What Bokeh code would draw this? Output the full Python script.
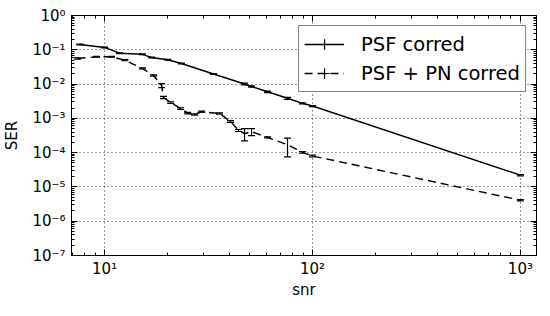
import numpy as np
from bokeh.plotting import figure
from bokeh.models import LogAxis, FixedTicker, Range1d, Legend, LegendItem, CustomJSTickFormatter
from bokeh.embed import file_html
from bokeh.resources import INLINE

# ---- data ----
snr_psf = [7.6, 10.0, 11.8, 15.2, 16.8, 20.1, 23.4, 33.4, 47.1, 50.9, 60.8, 75.8, 89.5, 100.0, 1000.0]
ser_psf = [0.143, 0.117, 0.0796, 0.0738, 0.0596, 0.0511, 0.0398, 0.0197, 0.01005, 0.0085,
           0.00596, 0.00385, 0.00275, 0.00229, 2.2e-5]
err_psf = [0.004, 0.003, 0.002, 0.002, 0.0015, 0.0013, 0.001, 0.0005, 0.0006, 0.0004,
           0.0003, 0.00025, 0.0001, 0.00008, 1.0e-6]

snr_pn = [7.42, 9.15, 10.8, 12.5, 15.2, 17.2, 18.8, 19.2, 20.8, 23.2, 25.1, 27.1, 29.3,
          35.7, 40.3, 44.1, 47.1, 50.9, 60.8, 75.8, 89.5, 100.0, 1000.0]
ser_pn = [0.0557, 0.0625, 0.0625, 0.0497, 0.0285, 0.0178, 0.0091, 0.00407, 0.0029, 0.00194,
          0.00143, 0.0013, 0.00156, 0.00139, 0.00081, 0.000443, 0.00036, 0.00041, 0.000277,
          0.00017, 0.000102, 8.0e-5, 4.1e-6]
err_pn = [0.002, 0.002, 0.002, 0.0018, 0.001, 0.0008, 0.0012, 0.0003, 0.00015, 0.0001,
          0.00007, 0.00006, 0.00007, 0.00006, 0.00005, 0.00003, 0.00014, 0.000095, 0.00001,
          0.000095, 0.000006, 0.000005, 2.0e-7]

x_major = [10.0, 100.0, 1000.0]
x_labels = ["10\u00b9", "10\u00b2", "10\u00b3"]
y_major = [10.0 ** k for k in range(-7, 1)]
y_labels = ["10\u207b\u2077", "10\u207b\u2076", "10\u207b\u2075", "10\u207b\u2074",
            "10\u207b\u00b3", "10\u207b\u00b2", "10\u207b\u00b9", "10\u2070"]

x_minor = [m * 10.0 ** e for e in range(0, 3) for m in range(2, 10)]
y_minor = [m * 10.0 ** e for e in range(-7, 0) for m in range(2, 10)]

FONT = "DejaVu Sans"

p = figure(frame_width=465, frame_height=240, x_axis_type="log", y_axis_type="log",
           x_range=Range1d(6.93, 1195), y_range=Range1d(1e-7, 1.0),
           output_backend="svg", toolbar_location=None,
           min_border_left=70, min_border_right=2, min_border_top=15, min_border_bottom=10)

xt = FixedTicker(ticks=x_major, minor_ticks=x_minor)
yt = FixedTicker(ticks=y_major, minor_ticks=y_minor)

LABEL_CODE = """
for (let i = 0; i < tvals.length; i++) {
  if (Math.abs(Math.log10(tvals[i]) - Math.log10(tick)) < 1e-6) { return tlabels[i] }
}
return ""
"""

p.outline_line_color = "black"
p.outline_line_width = 1

def style_axis(ax, ticker, tvals=None, tlabels=None):
    ax.ticker = ticker
    ax.axis_line_color = "black"
    ax.major_tick_in = 6
    ax.major_tick_out = 0
    ax.minor_tick_in = 3
    ax.minor_tick_out = 0
    ax.major_tick_line_color = "black"
    ax.minor_tick_line_color = "black"
    if tlabels is None:
        ax.formatter = CustomJSTickFormatter(code="return ' '")
        ax.major_label_text_font_size = "1px"
        ax.major_label_standoff = 0
    else:
        ax.formatter = CustomJSTickFormatter(args=dict(tvals=tvals, tlabels=tlabels), code=LABEL_CODE)
        ax.major_label_text_font = FONT
        ax.major_label_text_font_size = "15px"
        ax.major_label_text_color = "black"
        ax.axis_label_text_font = FONT
        ax.axis_label_text_font_size = "15px"
        ax.axis_label_text_font_style = "normal"
        ax.axis_label_text_color = "black"

style_axis(p.xaxis[0], xt, x_major, x_labels)
style_axis(p.yaxis[0], yt, y_major, y_labels)
p.xaxis[0].axis_label = "snr"
p.yaxis[0].axis_label = "SER"
p.xaxis[0].major_label_standoff = 4
p.yaxis[0].major_label_standoff = 6
p.xaxis[0].axis_label_standoff = 0
p.yaxis[0].axis_label_standoff = 8

top = LogAxis()
style_axis(top, xt)
p.add_layout(top, "above")
right = LogAxis()
style_axis(right, yt)
p.add_layout(right, "right")

p.xgrid.ticker = xt
p.ygrid.ticker = yt
for g in (p.xgrid[0], p.ygrid[0]):
    g.grid_line_color = "black"
    g.grid_line_dash = "1 3"
    g.grid_line_width = 1
    g.grid_line_alpha = 0.8

def draw_series(snr, ser, err, dash):
    snr = np.asarray(snr); ser = np.asarray(ser); err = np.asarray(err)
    lo = ser - err
    hi = ser + err
    line = p.line(snr, ser, line_color="black", line_width=1.4, line_dash=dash)
    p.segment(x0=snr, y0=lo, x1=snr, y1=hi, line_color="black", line_width=1.2)
    p.scatter(snr, lo, marker="dash", size=7, line_color="black", line_width=1.2)
    p.scatter(snr, hi, marker="dash", size=7, line_color="black", line_width=1.2)
    # nearly invisible on the plot; only used to draw the error-bar "+" in the legend
    cross = p.scatter(snr, ser, marker="cross", size=0.01, line_color="black", line_width=1.2)
    return line, cross

l1, c1 = draw_series(snr_psf, ser_psf, err_psf, "solid")
l2, c2 = draw_series(snr_pn, ser_pn, err_pn, "8 5")

legend = Legend(items=[LegendItem(label="PSF corred", renderers=[l1, c1]),
                       LegendItem(label="PSF + PN corred", renderers=[l2, c2])],
                location="top_right")
legend.margin = 10
legend.padding = 5
legend.spacing = 3
legend.glyph_width = 40
legend.glyph_height = 26
legend.label_standoff = 17
legend.label_text_font = FONT
legend.label_text_font_size = "19.5px"
legend.label_text_color = "black"
legend.border_line_color = "black"
legend.border_line_width = 1
legend.background_fill_color = "white"
legend.background_fill_alpha = 1.0
p.add_layout(legend)

open("out.html", "w").write(file_html(p, INLINE))
